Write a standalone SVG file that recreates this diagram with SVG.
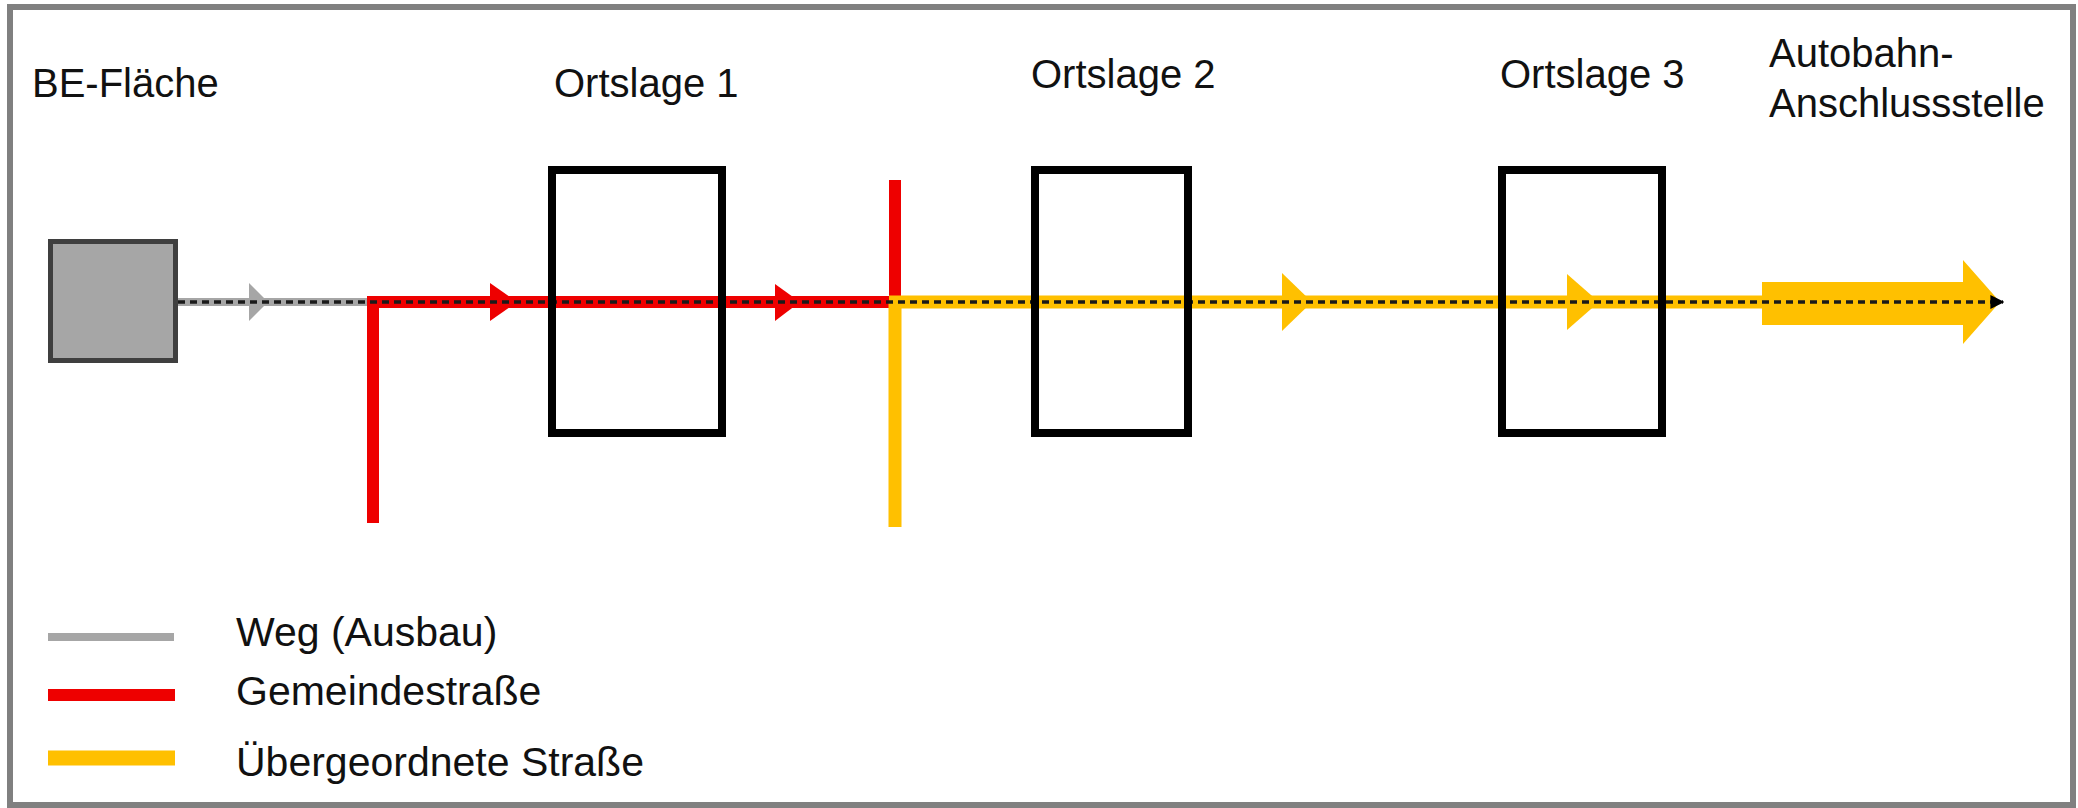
<svg xmlns="http://www.w3.org/2000/svg" width="2078" height="808" viewBox="0 0 2078 808">
  <style>
    .lbl { font-family: "Liberation Sans", Arial, sans-serif; font-size: 40px; fill: #111; }
    .leg { font-family: "Liberation Sans", Arial, sans-serif; font-size: 41px; fill: #111; }
    .town { fill: none; stroke: #000; stroke-width: 8; }
    .weg { stroke: #a6a6a6; stroke-width: 8; fill: none; }
    .gem { stroke: #ee0000; stroke-width: 12; fill: none; }
    .ueb { stroke: #ffc000; stroke-width: 13; fill: none; }
    .route { stroke: #1a1a1a; stroke-width: 3.5; stroke-dasharray: 7 5; fill: none; }
  </style>
  <defs>
    <marker id="routeEnd" viewBox="0 0 10 10" refX="9" refY="5" markerWidth="4" markerHeight="4" orient="auto" markerUnits="strokeWidth">
      <path d="M0,0 L10,5 L0,10 Z" fill="#000"/>
    </marker>
  </defs>

  <!-- outer frame -->
  <rect x="10" y="7" width="2063" height="798" fill="#fff" stroke="#808080" stroke-width="6"/>

  <!-- road segments -->
  <g id="connectors">
    <line class="weg" x1="178" y1="302" x2="370" y2="302"/>
    <polygon points="249,283 268,302 249,321" fill="#a6a6a6"/>

    <line class="gem" x1="373" y1="302" x2="895" y2="302" stroke="#d40000"/>
    <line class="gem" x1="373" y1="296" x2="373" y2="523"/>
    <line class="gem" x1="895" y1="180" x2="895" y2="302"/>
    <polygon points="490,283 517,302 490,321" fill="#ee0000"/>
    <polygon points="775,284 800,302 775,321" fill="#ee0000"/>

    <line class="ueb" x1="889" y1="302" x2="1770" y2="302"/>
    <line class="ueb" x1="895" y1="302" x2="895" y2="527"/>
    <polygon points="1282,273 1312,302 1282,331" fill="#ffc000"/>
    <polygon points="1567,274 1599,302 1567,330" fill="#ffc000"/>

    <!-- motorway junction arrow -->
    <polygon points="1762,282 1963,282 1963,260 2000,302 1963,344 1963,325 1762,325" fill="#ffc000"/>

    <line class="route" x1="178" y1="302" x2="2003" y2="302" marker-end="url(#routeEnd)"/>
  </g>

  <g id="be-flaeche">
    <rect x="50.5" y="241.5" width="125" height="119" fill="#a6a6a6" stroke="#3f3f3f" stroke-width="5"/>
    <text class="lbl" x="32" y="97">BE-Fläche</text>
  </g>

  <g id="ortslage-1">
    <rect class="town" x="552" y="170" width="170" height="263"/>
    <text class="lbl" x="554" y="97">Ortslage 1</text>
  </g>

  <g id="ortslage-2">
    <rect class="town" x="1035" y="170" width="153" height="263"/>
    <text class="lbl" x="1031" y="88">Ortslage 2</text>
  </g>

  <g id="ortslage-3">
    <rect class="town" x="1502" y="170" width="160" height="263"/>
    <text class="lbl" x="1500" y="88">Ortslage 3</text>
  </g>

  <g id="anschlussstelle">
    <text class="lbl" x="1769" y="67">Autobahn-</text>
    <text class="lbl" x="1769" y="117">Anschlussstelle</text>
  </g>

  <!-- legend -->
  <g id="legend">
    <line class="weg" x1="48" y1="637" x2="174" y2="637"/>
    <line class="gem" x1="48" y1="695" x2="175" y2="695"/>
    <line x1="48" y1="758" x2="175" y2="758" stroke="#ffc000" stroke-width="15"/>
    <text class="leg" x="236" y="646">Weg (Ausbau)</text>
    <text class="leg" x="236" y="705">Gemeindestraße</text>
    <text class="leg" x="236" y="776">Übergeordnete Straße</text>
  </g>
</svg>
